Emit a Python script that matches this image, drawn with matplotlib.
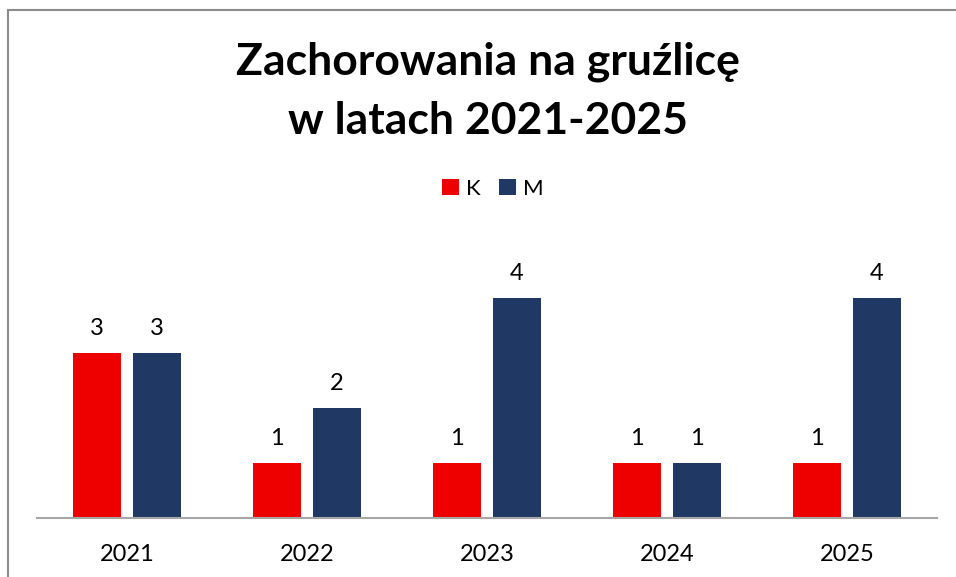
import matplotlib.pyplot as plt
import numpy as np
from matplotlib.lines import Line2D

years = ['2021', '2022', '2023', '2024', '2025']
k_values = [3, 1, 1, 1, 1]
m_values = [3, 2, 4, 1, 4]

plt.rcParams['font.family'] = ['Lato', 'DejaVu Sans']

fig = plt.figure(figsize=(9.56, 5.77), dpi=100)
ax = fig.add_axes([37 / 956, 59 / 577, 900 / 956, 275 / 577])

x = np.arange(len(years))
w = 48 / 180
off = 30 / 180
bars_k = ax.bar(x - off, k_values, w, color='#EE0000', label='K')
bars_m = ax.bar(x + off, m_values, w, color='#203864', label='M')

for bars in (bars_k, bars_m):
    for b in bars:
        ax.annotate(f"{int(b.get_height())}", (b.get_x() + b.get_width() / 2, b.get_height()),
                    xytext=(0, 10), textcoords='offset points', ha='center', va='bottom', fontsize=17)

ax.set_xlim(-0.5, len(years) - 0.5)
ax.set_ylim(0, 5)
ax.set_xticks(x)
ax.set_xticklabels(years, fontsize=17)
ax.tick_params(axis='x', length=0, pad=19)
ax.set_yticks([])
for s in ('top', 'right', 'left'):
    ax.spines[s].set_visible(False)
ax.spines['bottom'].set_color('#A6A6A6')
ax.spines['bottom'].set_linewidth(1.5)

fig.text(488 / 956, 1 - 75 / 577, 'Zachorowania na gruźlicę', ha='center', va='baseline',
         fontsize=32, fontweight='bold')
fig.text(488 / 956, 1 - 134 / 577, 'w latach 2021-2025', ha='center', va='baseline',
         fontsize=32, fontweight='bold')

fig.legend(handles=[bars_k, bars_m], loc='center', bbox_to_anchor=(493 / 956, 1 - 189 / 577),
           ncol=2, frameon=False, fontsize=16, handlelength=0.75, handleheight=0.75,
           handletextpad=0.35, columnspacing=0.8)

# ramka wykresu (tylko góra i lewa strona widoczna)
fig.add_artist(Line2D([7.5 / 956, 1], [1 - 9.5 / 577, 1 - 9.5 / 577], color='#8C8C8C', lw=1.5))
fig.add_artist(Line2D([7.5 / 956, 7.5 / 956], [0, 1 - 9.5 / 577], color='#8C8C8C', lw=1.5))

fig.savefig('out.png', dpi=100)
